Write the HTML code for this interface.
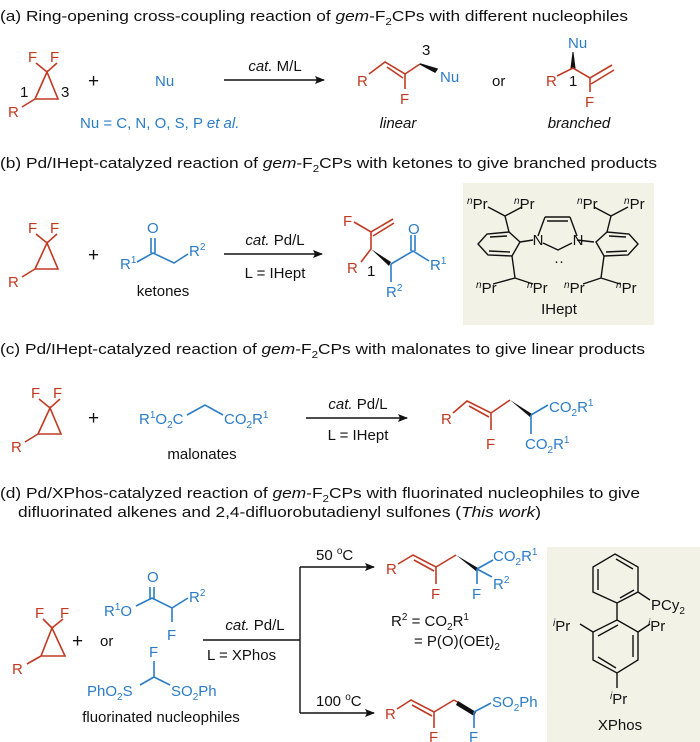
<!DOCTYPE html>
<html><head><meta charset="utf-8"><style>
html,body{margin:0;padding:0;background:#fff;}
svg{display:block;}
text{font-family:"Liberation Sans",Arial,sans-serif;}
.t{font-size:15px;fill:#111;}
.r{fill:#c03a22;font-size:15px;}
.b{fill:#2b7cc6;font-size:15px;}
.k{fill:#111;font-size:15px;}
.p{fill:#111;font-size:19px;}
.s{font-size:10px;}
.lr{stroke:#c03a22;stroke-width:1.6;fill:none;}
.lb{stroke:#2b7cc6;stroke-width:1.6;fill:none;}
.lk{stroke:#111;stroke-width:1.4;fill:none;}
</style></head><body>
<svg width="700" height="742" viewBox="0 0 700 742" xmlns="http://www.w3.org/2000/svg">
<defs><marker id="ah" markerWidth="10" markerHeight="8" refX="9" refY="4" orient="auto" markerUnits="userSpaceOnUse"><path d="M0,0 L10,4 L0,8 L2,4 z" fill="#111"/></marker></defs>

<!-- (a) -->
<text class="t" x="0" y="21" textLength="628" lengthAdjust="spacingAndGlyphs">(a) Ring-opening cross-coupling reaction of <tspan font-style="italic">gem</tspan>-F<tspan class="s" dy="4">2</tspan><tspan dy="-4">CPs with different nucleophiles</tspan></text>
<g>
<text class="r" x="28" y="62">F</text><text class="r" x="50" y="62">F</text>
<path class="lr" d="M36,63 L47,72 L57,63 M47,72 L35,99 L58,99 Z M35,99 L22,107"/>
<text class="k" x="20" y="97" font-size="12">1</text><text class="k" x="61" y="97" font-size="12">3</text>
<text class="r" x="8" y="117">R</text>
</g>
<text class="p" x="88" y="87">+</text>
<text class="b" x="155" y="86">Nu</text>
<text class="b" x="80" y="128">Nu = C, N, O, S, P <tspan font-style="italic">et al.</tspan></text>
<line class="lk" x1="224" y1="80" x2="324" y2="80" marker-end="url(#ah)"/>
<text class="k" x="275" y="71" text-anchor="middle"><tspan font-style="italic">cat.</tspan> M/L</text>
<!-- linear -->
<text class="r" x="357" y="86">R</text>
<path class="lr" d="M369,74 L385,62 L405,74 L405,89 M387,67 L403,78"/>
<path class="lr" d="M405,74 L420,64"/>
<path d="M420,64 L435,72 L437,69 Z" fill="#111" stroke="#111" stroke-width="1.5"/>
<text class="k" x="422" y="55" font-size="12">3</text>
<text class="b" x="440" y="82">Nu</text>
<text class="r" x="400" y="104">F</text>
<text class="k" x="398" y="128" text-anchor="middle" font-style="italic">linear</text>
<text class="k" x="492" y="86">or</text>
<!-- branched -->
<text class="b" x="568" y="48">Nu</text>
<path d="M573,52 L571,68 L575,68 Z" fill="#111" stroke="#111" stroke-width="1"/>
<text class="r" x="546" y="86">R</text>
<path class="lr" d="M557,76 L573,68 L590,78 L612,65 M590,78 L590,92 M591,84 L614,70"/>
<text class="k" x="569" y="86" font-size="12">1</text>
<text class="r" x="585" y="107">F</text>
<text class="k" x="579" y="128" text-anchor="middle" font-style="italic">branched</text>

<!-- (b) -->
<text class="t" x="0" y="168" textLength="657" lengthAdjust="spacingAndGlyphs">(b) Pd/IHept-catalyzed reaction of <tspan font-style="italic">gem</tspan>-F<tspan class="s" dy="4">2</tspan><tspan dy="-4">CPs with ketones to give branched products</tspan></text>
<g>
<text class="r" x="28" y="233">F</text><text class="r" x="50" y="233">F</text>
<path class="lr" d="M36,234 L47,243 L57,234 M47,243 L35,269 L58,269 Z M35,269 L22,277"/>
<text class="r" x="8" y="287">R</text>
</g>
<text class="p" x="88" y="261">+</text>
<text class="b" x="147" y="233">O</text>
<path class="lb" d="M151,238 L151,253 M155,238 L155,253 M137,262 L153,253 L174,263 L188,254"/>
<text class="b" x="120" y="269">R<tspan class="s" dy="-6">1</tspan></text>
<text class="b" x="189" y="256">R<tspan class="s" dy="-6">2</tspan></text>
<text class="k" x="163" y="296" text-anchor="middle">ketones</text>
<line class="lk" x1="224" y1="254" x2="322" y2="254" marker-end="url(#ah)"/>
<text class="k" x="275" y="245" text-anchor="middle"><tspan font-style="italic">cat.</tspan> Pd/L</text>
<text class="k" x="275" y="278" text-anchor="middle">L = IHept</text>
<!-- product b -->
<text class="r" x="343" y="226">F</text>
<path class="lr" d="M354,222 L371,232 L393,219 M373,236 L394,223 M371,232 L371,249 M361,262 L371,249"/>
<path d="M371,249 L391,262 L389,266 Z" fill="#111"/>
<path class="lb" d="M391,264 L391,282 M391,264 L413,251 L429,261 M411,251 L411,235 M415,251 L415,235"/>
<text class="r" x="347" y="273">R</text>
<text class="k" x="367" y="276" font-size="12">1</text>
<text class="b" x="386" y="297">R<tspan class="s" dy="-6">2</tspan></text>
<text class="b" x="408" y="234">O</text>
<text class="b" x="430" y="270">R<tspan class="s" dy="-6">1</tspan></text>
<!-- IHept box -->
<rect x="463" y="183" width="191" height="142" fill="#f3f2e7"/>
<g stroke="#111" stroke-width="1.4" fill="none">
<path d="M545,217 L570,217 M547,221 L568,221 M545,217 L538,236 M570,217 L577,236 M543,243 L558,250 L572,243"/>
<path d="M520,242 L533,240 M577,240 L594,242"/>
<path d="M520,242 L509,232 L487,234 L478,244 L488,255 L512,256 Z M490,237 L507,236 M489,251 L510,252"/>
<path d="M509,232 L505,216 L488,207 M505,216 L522,207 M512,256 L515,278 L493,284 M515,278 L533,284"/>
<path d="M596,242 L607,232 L629,234 L638,244 L628,255 L604,256 Z M609,236 L626,237 M606,252 L627,251"/>
<path d="M607,232 L611,216 L594,207 M611,216 L628,207 M604,256 L601,278 L583,284 M601,278 L620,284"/>
</g>
<text class="k" x="538" y="245" font-size="13" text-anchor="middle">N</text>
<text class="k" x="578" y="245" font-size="13" text-anchor="middle">N</text>
<text class="k" x="559" y="266" font-size="13" text-anchor="middle">··</text>
<g class="k" font-size="13">
<text x="467" y="209"><tspan class="s" dy="-5" font-style="italic">n</tspan><tspan dy="5">Pr</tspan></text>
<text x="514" y="209"><tspan class="s" dy="-5" font-style="italic">n</tspan><tspan dy="5">Pr</tspan></text>
<text x="577" y="209"><tspan class="s" dy="-5" font-style="italic">n</tspan><tspan dy="5">Pr</tspan></text>
<text x="624" y="209"><tspan class="s" dy="-5" font-style="italic">n</tspan><tspan dy="5">Pr</tspan></text>
<text x="476" y="293"><tspan class="s" dy="-5" font-style="italic">n</tspan><tspan dy="5">Pr</tspan></text>
<text x="527" y="293"><tspan class="s" dy="-5" font-style="italic">n</tspan><tspan dy="5">Pr</tspan></text>
<text x="564" y="293"><tspan class="s" dy="-5" font-style="italic">n</tspan><tspan dy="5">Pr</tspan></text>
<text x="616" y="293"><tspan class="s" dy="-5" font-style="italic">n</tspan><tspan dy="5">Pr</tspan></text>
</g>
<text class="k" x="559" y="314" text-anchor="middle">IHept</text>

<!-- (c) -->
<text class="t" x="0" y="354" textLength="645" lengthAdjust="spacingAndGlyphs">(c) Pd/IHept-catalyzed reaction of <tspan font-style="italic">gem</tspan>-F<tspan class="s" dy="4">2</tspan><tspan dy="-4">CPs with malonates to give linear products</tspan></text>
<g>
<text class="r" x="31" y="398">F</text><text class="r" x="53" y="398">F</text>
<path class="lr" d="M39,399 L50,408 L60,399 M50,408 L38,434 L61,434 Z M38,434 L25,442"/>
<text class="r" x="11" y="452">R</text>
</g>
<text class="p" x="88" y="424">+</text>
<text class="b" x="139" y="424">R<tspan class="s" dy="-6">1</tspan><tspan dy="6">O</tspan><tspan class="s" dy="4">2</tspan><tspan dy="-4">C</tspan></text>
<path class="lb" d="M187,415 L205,405 L223,415"/>
<text class="b" x="224" y="424">CO<tspan class="s" dy="4">2</tspan><tspan dy="-4">R</tspan><tspan class="s" dy="-6">1</tspan></text>
<text class="k" x="202" y="459" text-anchor="middle">malonates</text>
<line class="lk" x1="306" y1="418" x2="407" y2="418" marker-end="url(#ah)"/>
<text class="k" x="358" y="409" text-anchor="middle"><tspan font-style="italic">cat.</tspan> Pd/L</text>
<text class="k" x="358" y="440" text-anchor="middle">L = IHept</text>
<text class="r" x="441" y="424">R</text>
<path class="lr" d="M453,413 L467,401 L491,413 L510,400 M469,406 L489,417 M491,413 L491,430"/>
<path d="M510,400 L532,414 L530,417 Z" fill="#111"/>
<path class="lb" d="M531,415 L548,405 M531,415 L531,434"/>
<text class="b" x="549" y="412">CO<tspan class="s" dy="4">2</tspan><tspan dy="-4">R</tspan><tspan class="s" dy="-6">1</tspan></text>
<text class="b" x="525" y="449">CO<tspan class="s" dy="4">2</tspan><tspan dy="-4">R</tspan><tspan class="s" dy="-6">1</tspan></text>
<text class="r" x="486" y="449">F</text>

<!-- (d) -->
<text class="t" x="0" y="498" textLength="640" lengthAdjust="spacingAndGlyphs">(d) Pd/XPhos-catalyzed reaction of <tspan font-style="italic">gem</tspan>-F<tspan class="s" dy="4">2</tspan><tspan dy="-4">CPs with fluorinated nucleophiles to give</tspan></text>
<text class="t" x="18" y="517" textLength="523" lengthAdjust="spacingAndGlyphs">difluorinated alkenes and 2,4-difluorobutadienyl sulfones (<tspan font-style="italic">This work</tspan>)</text>
<g>
<text class="r" x="35" y="618">F</text><text class="r" x="60" y="618">F</text>
<path class="lr" d="M43,619 L52,628 L63,619 M52,628 L41,656 L65,656 Z M41,656 L27,664"/>
<text class="r" x="12" y="674">R</text>
</g>
<text class="p" x="72" y="647">+</text>
<text class="k" x="100" y="646">or</text>
<text class="b" x="147" y="582">O</text>
<path class="lb" d="M150,587 L150,600 M154,587 L154,600 M136,606 L152,598 L172,608 L188,598 M172,608 L172,622"/>
<text class="b" x="104" y="616">R<tspan class="s" dy="-6">1</tspan><tspan dy="6">O</tspan></text>
<text class="b" x="189" y="602">R<tspan class="s" dy="-6">2</tspan></text>
<text class="b" x="167" y="640">F</text>
<text class="b" x="149" y="657">F</text>
<path class="lb" d="M154,661 L154,677 L140,685 M154,677 L170,685"/>
<text class="b" x="87" y="696">PhO<tspan class="s" dy="4">2</tspan><tspan dy="-4">S</tspan></text>
<text class="b" x="171" y="696">SO<tspan class="s" dy="4">2</tspan><tspan dy="-4">Ph</tspan></text>
<text class="k" x="161" y="722" text-anchor="middle">fluorinated nucleophiles</text>
<path class="lk" d="M203,640 L300,640 M300,567 L300,713"/>
<line class="lk" x1="300" y1="567" x2="374" y2="567" marker-end="url(#ah)"/>
<line class="lk" x1="300" y1="713" x2="374" y2="713" marker-end="url(#ah)"/>
<text class="k" x="255" y="630" text-anchor="middle"><tspan font-style="italic">cat.</tspan> Pd/L</text>
<text class="k" x="207" y="660">L = XPhos</text>
<text class="k" x="316" y="560">50 <tspan class="s" dy="-6">o</tspan><tspan dy="6">C</tspan></text>
<text class="k" x="316" y="706">100 <tspan class="s" dy="-6">o</tspan><tspan dy="6">C</tspan></text>
<!-- upper product -->
<text class="r" x="386" y="574">R</text>
<path class="lr" d="M398,564 L413,555 L436,567 L456,555 M414,560 L434,571 M436,567 L436,584"/>
<path d="M456,555 L478,568 L476,571 Z" fill="#111"/>
<path class="lb" d="M477,569 L493,560 M477,569 L477,584 M477,569 L492,577"/>
<text class="b" x="493" y="561">CO<tspan class="s" dy="4">2</tspan><tspan dy="-4">R</tspan><tspan class="s" dy="-6">1</tspan></text>
<text class="b" x="493" y="589">R<tspan class="s" dy="-6">2</tspan></text>
<text class="r" x="431" y="599">F</text>
<text class="b" x="472" y="599">F</text>
<text class="k" x="391" y="626">R<tspan class="s" dy="-6">2</tspan><tspan dy="6"> = CO</tspan><tspan class="s" dy="4">2</tspan><tspan dy="-4">R</tspan><tspan class="s" dy="-6">1</tspan></text>
<text class="k" x="414" y="646">= P(O)(OEt)<tspan class="s" dy="4">2</tspan></text>
<!-- lower product -->
<text class="r" x="385" y="719">R</text>
<path class="lr" d="M397,709 L411,700 L434,712 L454,700 M412,705 L432,716 M434,712 L434,728"/>
<path class="lr" d="M454,700 L474,712"/>
<path d="M456,705 L474,716 L476,712 L458,701 Z" fill="#111"/>
<path class="lb" d="M474,712 L491,703 M474,712 L474,728"/>
<text class="b" x="492" y="707">SO<tspan class="s" dy="4">2</tspan><tspan dy="-4">Ph</tspan></text>
<text class="r" x="429" y="742">F</text>
<text class="b" x="469" y="742">F</text>
<!-- XPhos box -->
<rect x="547" y="547" width="153" height="195" fill="#f3f2e7"/>
<g stroke="#111" stroke-width="1.4" fill="none">
<path d="M615,554 L638,567 L638,592 L617,603 L593,592 L593,567 Z M616,559 L633,569 M598,569 L598,590 M620,598 L634,590"/>
<path d="M638,592 L650,600 M617,603 L617,620"/>
<path d="M617,620 L638,632 L638,660 L617,673 L593,660 L593,632 Z M618,625 L598,636 M633,635 L633,657 M598,657 L616,668"/>
<path d="M593,632 L580,624 M638,632 L650,624 M617,673 L617,688"/>
</g>
<text class="k" x="651" y="610">PCy<tspan class="s" dy="4">2</tspan></text>
<text class="k" x="553" y="631"><tspan class="s" dy="-5" font-style="italic">i</tspan><tspan dy="5">Pr</tspan></text>
<text class="k" x="648" y="631"><tspan class="s" dy="-5" font-style="italic">i</tspan><tspan dy="5">Pr</tspan></text>
<text class="k" x="610" y="704"><tspan class="s" dy="-5" font-style="italic">i</tspan><tspan dy="5">Pr</tspan></text>
<text class="k" x="620" y="730" text-anchor="middle">XPhos</text>
</svg>
</body></html>
